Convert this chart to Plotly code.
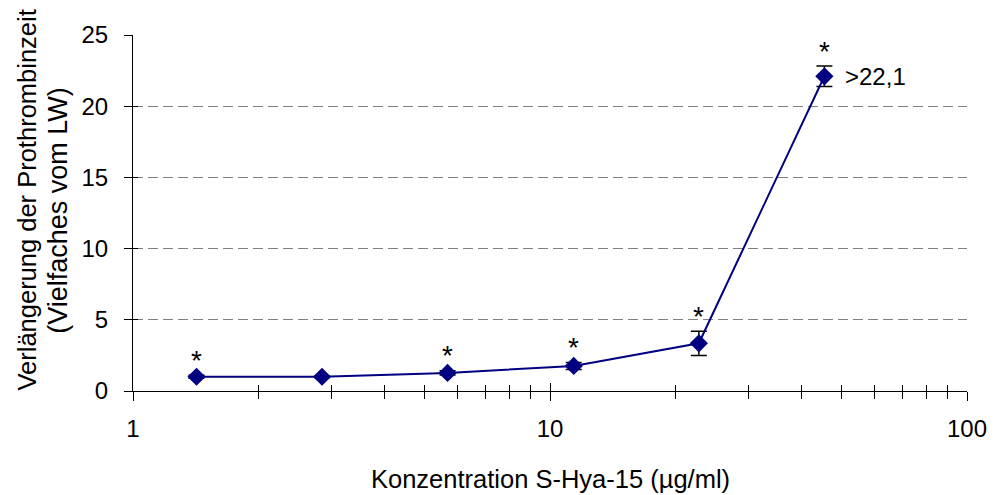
import math
import plotly.graph_objects as go

# Konzentration (µg/ml) und Verlängerung der Prothrombinzeit (Vielfaches vom LW)
konzentration = [1.42, 2.84, 5.68, 11.4, 22.75, 45.5]
verlaengerung = [1.0, 1.0, 1.27, 1.76, 3.35, 22.1]
fehler = [0.1, 0.06, 0.15, 0.25, 0.85, 0.72]
signifikant = [True, False, True, True, True, True]
wert_label = ">22,1"

x_titel = "Konzentration S-Hya-15 (µg/ml)"
y_titel_1 = "Verlängerung der Prothrombinzeit"
y_titel_2 = "(Vielfaches vom LW)"

navy = "#000080"
font_family = "Liberation Sans, Arial, sans-serif"
tick_size = 24

fig = go.Figure()

fig.add_trace(go.Scatter(
    x=konzentration, y=verlaengerung,
    mode="lines+markers",
    line=dict(color=navy, width=2),
    marker=dict(symbol="diamond", size=14, color=navy),
    error_y=dict(type="data", array=fehler, visible=True,
                 color="black", thickness=1.5, width=8),
    showlegend=False,
))

# Sternchen über signifikanten Werten (Annotationen auf Log-Achse: log10-Koordinaten)
for xv, yv, ev, s in zip(konzentration, verlaengerung, fehler, signifikant):
    if s:
        fig.add_annotation(x=math.log10(xv), y=yv + ev, xref="x", yref="y",
                           text="*", showarrow=False, yanchor="middle", yshift=15,
                           font=dict(family=font_family, size=28, color="black"))

# Wertbeschriftung am letzten Punkt
fig.add_annotation(x=math.log10(konzentration[-1]), y=verlaengerung[-1],
                   xref="x", yref="y", text=wert_label, showarrow=False,
                   xanchor="left", yanchor="middle", xshift=19,
                   font=dict(family=font_family, size=24, color="black"))

# Achsentitel
fig.add_annotation(x=0.5, y=0, xref="paper", yref="paper", text=x_titel,
                   showarrow=False, yanchor="middle", yshift=-88,
                   font=dict(family=font_family, size=25.5, color="black"))
fig.add_annotation(x=0, y=0.535, xref="paper", yref="paper", text=y_titel_1,
                   showarrow=False, textangle=-90, xanchor="center", xshift=-106,
                   font=dict(family=font_family, size=25.5, color="black"))
fig.add_annotation(x=0, y=0.506, xref="paper", yref="paper", text=y_titel_2,
                   showarrow=False, textangle=-90, xanchor="center", xshift=-75,
                   font=dict(family=font_family, size=27, color="black"))

major_x = [1, 10, 100]
minor_x = [v * d for d in (1, 10) for v in range(2, 10)]
y_ticks = [0, 5, 10, 15, 20, 25]

fig.update_layout(
    width=999, height=495,
    margin=dict(l=133, r=26, t=35, b=104),
    paper_bgcolor="white", plot_bgcolor="white",
    font=dict(family=font_family, size=tick_size, color="black"),
    xaxis=dict(
        type="log", range=[0, 2],
        tickvals=major_x, ticktext=[str(v) for v in major_x],
        ticks="outside", ticklen=9, tickwidth=1, tickcolor="black",
        ticklabelstandoff=7,
        showgrid=False, zeroline=False,
        showline=True, linecolor="black", linewidth=1,
        minor=dict(tickvals=minor_x, ticks="outside", ticklen=7,
                   tickcolor="black", tickwidth=1, showgrid=False),
        tickfont=dict(size=tick_size),
    ),
    xaxis2=dict(
        type="log", range=[0, 2], overlaying="x", anchor="y", side="bottom",
        tickvals=major_x, showticklabels=False,
        ticks="inside", ticklen=8, tickwidth=1, tickcolor="black",
        showgrid=False, zeroline=False, showline=False,
        minor=dict(tickvals=minor_x, ticks="inside", ticklen=6,
                   tickcolor="black", tickwidth=1, showgrid=False),
    ),
    yaxis=dict(
        range=[0, 25], tickvals=y_ticks,
        ticks="outside", ticklen=8, tickwidth=1, tickcolor="black",
        ticklabelstandoff=11,
        zeroline=False,
        showgrid=True, gridcolor="#808080", griddash="10px,5px", gridwidth=1,
        showline=True, linecolor="black", linewidth=1,
        tickfont=dict(size=tick_size),
    ),
    yaxis2=dict(
        range=[0, 25], overlaying="y", anchor="x", side="left",
        tickvals=y_ticks, showticklabels=False,
        ticks="inside", ticklen=5, tickwidth=1, tickcolor="black",
        showgrid=False, zeroline=False, showline=False,
    ),
)

# Unsichtbare Spur, damit die überlagerten Achsen gezeichnet werden
fig.add_trace(go.Scatter(x=[1], y=[0], xaxis="x2", yaxis="y2", mode="markers",
                         marker=dict(opacity=0), showlegend=False, hoverinfo="skip"))

fig.write_html("out.html")
